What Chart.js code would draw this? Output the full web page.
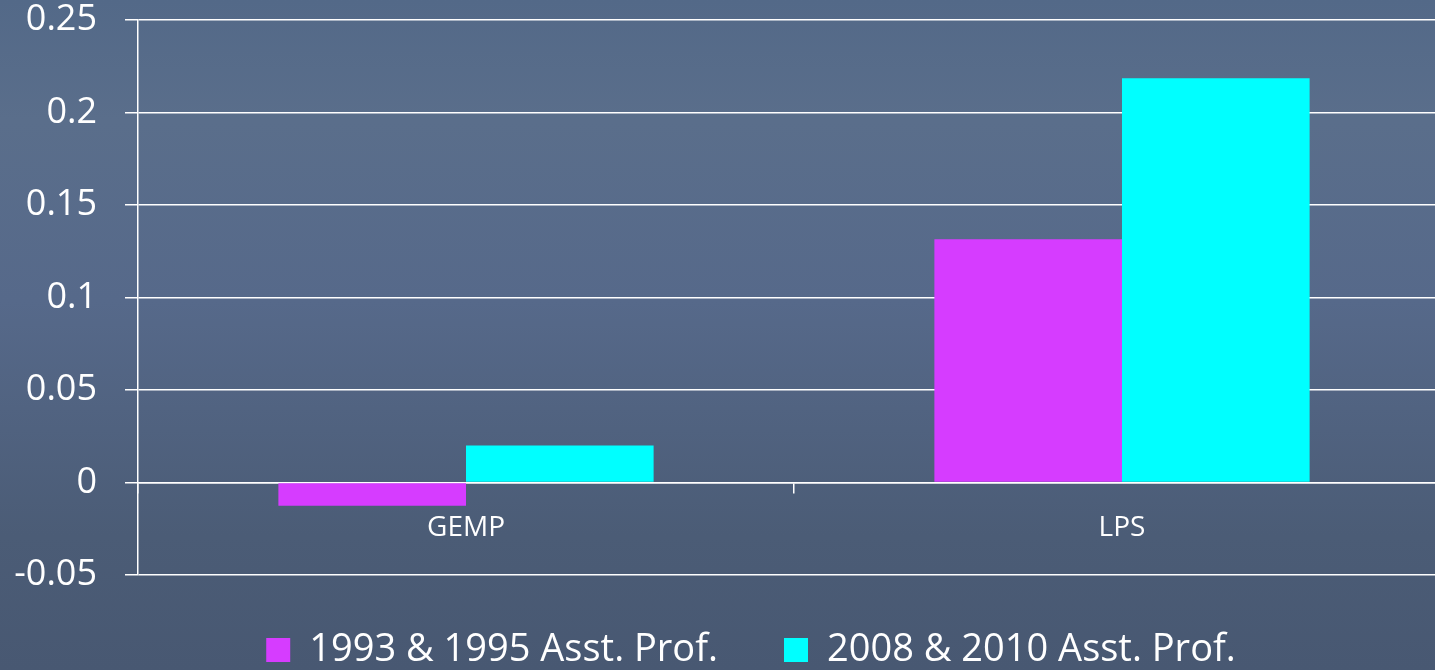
<!DOCTYPE html>
<html>
<head>
<meta charset="utf-8">
<script src="https://cdn.jsdelivr.net/npm/chart.js@4.4.1/dist/chart.umd.min.js"></script>
<style>
    html, body {
        margin: 0;
        padding: 0;
        overflow: hidden;
    }
    body {
        width: 1435px;
        height: 670px;
        background: linear-gradient(to bottom, #536988 0%, #5a6e8b 18%, #56698a 45%, #4b5c76 80%, #485872 100%);
    }
    #wrap {
        position: relative;
        width: 1450px;
        height: 670px;
    }
</style>
</head>
<body>
<div id="wrap"><canvas id="grafico"></canvas></div>
<script>
const categorias = ['GEMP', 'LPS'];
const serie1993 = [-0.0125, 0.1315];
const serie2008 = [0.02, 0.2185];
const nomesSeries = ['1993 & 1995 Asst. Prof.', '2008 & 2010 Asst. Prof.'];
const yTicks = [-0.05, 0, 0.05, 0.1, 0.15, 0.2, 0.25];
const yTickLabels = ['-0.05', '0', '0.05', '0.1', '0.15', '0.2', '0.25'];

const fonte = '"Open Sans", "Liberation Sans", sans-serif';

// ajusta a posicao da legenda sem mexer na area do grafico
const ajusteLegenda = {
    id: 'ajusteLegenda',
    afterLayout(chart) {
        const leg = chart.legend;
        if (leg) {
            leg.top -= 10;
            leg.left += 26;
            leg.right += 26;
        }
    }
};

function renderChart() {
    const ctx = document.getElementById('grafico').getContext('2d');
    new Chart(ctx, {
        type: 'bar',
        data: {
            labels: categorias,
            datasets: [{
                label: nomesSeries[0],
                data: serie1993,
                backgroundColor: '#d63cff',
                borderWidth: 0
            }, {
                label: nomesSeries[1],
                data: serie2008,
                backgroundColor: '#00ffff',
                borderWidth: 0
            }]
        },
        plugins: [ajusteLegenda],
        options: {
            responsive: true,
            maintainAspectRatio: false,
            animation: false,
            layout: {
                padding: { left: 0, right: 0, top: 0, bottom: 0 }
            },
            datasets: {
                bar: {
                    categoryPercentage: 0.572,
                    barPercentage: 1.0
                }
            },
            scales: {
                x: {
                    position: { y: 0 },
                    grid: {
                        display: true,
                        drawOnChartArea: false,
                        drawTicks: true,
                        tickLength: 10,
                        color: '#ffffff',
                        lineWidth: 1.5,
                        offset: true
                    },
                    border: { display: true, color: '#ffffff', width: 1.5 },
                    ticks: {
                        color: '#ffffff',
                        padding: 19,
                        font: { family: fonte, size: 28 }
                    }
                },
                y: {
                    min: -0.05,
                    max: 0.25,
                    afterFit: function (scale) {
                        scale.width = 138;
                        scale.paddingTop = 20;
                        scale.paddingBottom = 20;
                    },
                    afterBuildTicks: function (scale) {
                        scale.ticks = yTicks.map(v => ({ value: v }));
                    },
                    grid: {
                        color: '#ffffff',
                        lineWidth: 1.5,
                        tickLength: 13
                    },
                    border: { display: true, color: '#ffffff', width: 1.5 },
                    ticks: {
                        color: '#ffffff',
                        padding: 28,
                        font: { family: fonte, size: 36 },
                        callback: function (value) {
                            const i = yTicks.findIndex(t => Math.abs(t - value) < 1e-9);
                            return i >= 0 ? yTickLabels[i] : '';
                        }
                    }
                }
            },
            plugins: {
                legend: {
                    position: 'bottom',
                    maxHeight: 95,
                    labels: {
                        color: '#ffffff',
                        boxWidth: 24,
                        boxHeight: 24,
                        padding: 66,
                        font: { family: fonte, size: 38 }
                    }
                },
                tooltip: { enabled: false }
            }
        }
    });
}

renderChart();
</script>
</body>
</html>
